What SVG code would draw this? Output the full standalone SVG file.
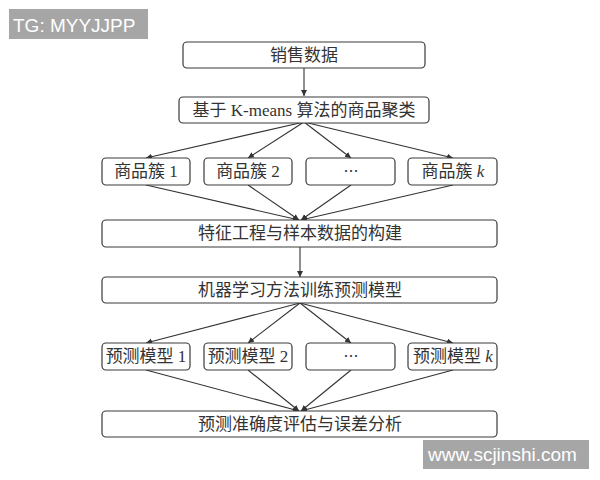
<svg xmlns="http://www.w3.org/2000/svg" width="600" height="480" viewBox="0 0 600 480">
<defs>
<marker id="ah" markerWidth="8" markerHeight="8" refX="6" refY="3" orient="auto" markerUnits="userSpaceOnUse">
<path d="M0,0 L6,3 L0,6 Z" fill="#333"/>
</marker>
<style>
.box{fill:#fff;stroke:#3a3a3a;stroke-width:1.2}
.t{font-family:"Liberation Serif","Noto Sans CJK SC",serif;font-size:17px;fill:#333;text-anchor:middle}
.c{fill:none;stroke:#333;stroke-width:1.1;marker-end:url(#ah)}
.wm{fill:#a6a6a6}
.wt{font-family:"Liberation Sans",Arial,sans-serif;font-size:19px;fill:#fff}
</style>
</defs>
<rect width="600" height="480" fill="#fff"/>
<g id="watermark-top"><rect class="wm" x="9" y="9" width="139" height="30"/><text class="wt" x="13" y="32">TG: MYYJJPP</text></g>
<g id="connectors">
<path class="c" d="M304,68 L304,96"/>
<path class="c" d="M304,122 L146,158"/>
<path class="c" d="M304,122 L248,158"/>
<path class="c" d="M304,122 L351,158"/>
<path class="c" d="M304,122 L453,158"/>
<path class="c" d="M146,185 L299,220"/>
<path class="c" d="M248,185 L299,220"/>
<path class="c" d="M351,185 L301,220"/>
<path class="c" d="M453,185 L301,220"/>
<path class="c" d="M300,247 L300,277"/>
<path class="c" d="M300,303 L146,343"/>
<path class="c" d="M300,303 L248,343"/>
<path class="c" d="M300,303 L351,343"/>
<path class="c" d="M300,303 L453,343"/>
<path class="c" d="M146,370 L299,411"/>
<path class="c" d="M248,370 L299,411"/>
<path class="c" d="M351,370 L301,411"/>
<path class="c" d="M453,370 L301,411"/>
</g>
<g id="n1"><rect class="box" x="183" y="42" width="242" height="26" rx="4"/><text class="t" x="304" y="61">销售数据</text></g>
<g id="n2"><rect class="box" x="179" y="97" width="250" height="26" rx="4"/><text class="t" x="304" y="116">基于 K-means 算法的商品聚类</text></g>
<g id="n3a"><rect class="box" x="102" y="158" width="88" height="27" rx="4"/><text class="t" x="146" y="177">商品簇 1</text></g>
<g id="n3b"><rect class="box" x="204" y="158" width="88" height="27" rx="4"/><text class="t" x="248" y="177">商品簇 2</text></g>
<g id="n3c"><rect class="box" x="306" y="158" width="89" height="27" rx="4"/><text class="t" x="351" y="177" style="font-family:'Noto Sans CJK SC',sans-serif;font-size:15px">…</text></g>
<g id="n3d"><rect class="box" x="408" y="158" width="89" height="27" rx="4"/><text class="t" x="453" y="177">商品簇 <tspan font-style="italic">k</tspan></text></g>
<g id="n4"><rect class="box" x="102" y="220" width="395" height="27" rx="4"/><text class="t" x="300" y="239">特征工程与样本数据的构建</text></g>
<g id="n5"><rect class="box" x="102" y="277" width="395" height="26" rx="4"/><text class="t" x="300" y="296">机器学习方法训练预测模型</text></g>
<g id="n6a"><rect class="box" x="102" y="343" width="88" height="27" rx="4"/><text class="t" x="146" y="362">预测模型 1</text></g>
<g id="n6b"><rect class="box" x="204" y="343" width="88" height="27" rx="4"/><text class="t" x="248" y="362">预测模型 2</text></g>
<g id="n6c"><rect class="box" x="306" y="343" width="89" height="27" rx="4"/><text class="t" x="351" y="362" style="font-family:'Noto Sans CJK SC',sans-serif;font-size:15px">…</text></g>
<g id="n6d"><rect class="box" x="408" y="343" width="89" height="27" rx="4"/><text class="t" x="453" y="362">预测模型 <tspan font-style="italic">k</tspan></text></g>
<g id="n7"><rect class="box" x="102" y="411" width="395" height="26" rx="4"/><text class="t" x="300" y="430">预测准确度评估与误差分析</text></g>
<g id="watermark-bottom"><rect class="wm" x="423" y="440" width="166" height="29"/><text class="wt" x="428" y="461">www.scjinshi.com</text></g>
</svg>
